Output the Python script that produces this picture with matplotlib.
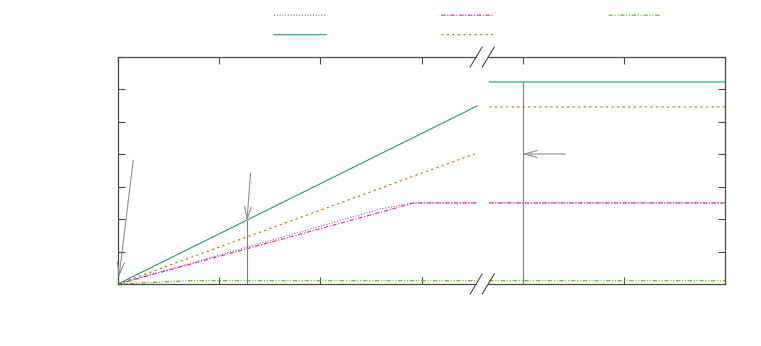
import matplotlib.pyplot as plt
from matplotlib.lines import Line2D

# 1. Data (x in axis units 0..6, y in 0..7)
x_left_end = 3.55
x_right_start = 3.67
x_max = 6.0

# green solid
green_left_x = [0.0, x_left_end]
green_left_y = [0.0, 5.49]
green_right_y = 6.23

# orange dashed
orange_left_x = [0.0, x_left_end]
orange_left_y = [0.0, 4.04]
orange_right_y = 5.46

# purple dotted
purple_left_x = [0.0, 2.6, 2.92, x_left_end]
purple_left_y = [0.0, 2.32, 2.5, 2.5]
purple_right_y = 2.5

# pink dash-dot
pink_left_x = [0.0, 2.93, x_left_end]
pink_left_y = [0.0, 2.5, 2.5]
pink_right_y = 2.5

# light green dash-dot-dot
lime_left_x = [0.0, 0.7, x_left_end]
lime_left_y = [0.0, 0.1, 0.1]
lime_right_y = 0.1

# annotations
marker_x = [1.275, 4.0]
marker_top = [1.94, 6.23]
arrows = [((0.15, 3.82), (0.01, 0.22)),
          ((1.31, 3.42), (1.275, 1.94)),
          ((4.42, 4.01), (4.0, 4.01))]

x_ticks = [0, 1, 2, 3, 4, 5, 6]
y_ticks = [0, 1, 2, 3, 4, 5, 6, 7]

# 2. Styles (Dark2 palette, gnuplot-ish)
c_purple = '#7570b3'
c_pink = '#e7298a'
c_lime = '#66a61e'
c_green = '#1b9e77'
c_orange = '#d95f02'
axis_col = '#4a4a4a'
lw = 0.8

dotted = (0, (1, 1.5))
dashdot = (0, (4, 1.5, 1, 1.5))
dashdotdot = (0, (4, 1.5, 1, 1.5, 1, 1.5))
dashed = (0, (2, 3))

# 3. Figure
fig = plt.figure(figsize=(7.61, 3.46), dpi=100)
ax = fig.add_axes([118 / 761, 62 / 346, 607 / 761, 227 / 346])

series = [
    (purple_left_x, purple_left_y, purple_right_y, c_purple, dotted),
    (pink_left_x, pink_left_y, pink_right_y, c_pink, dashdot),
    (lime_left_x, lime_left_y, lime_right_y, c_lime, dashdotdot),
    (green_left_x, green_left_y, green_right_y, c_green, '-'),
    (orange_left_x, orange_left_y, orange_right_y, c_orange, dashed),
]
handles = []
for xs, ys, yr, col, ls in series:
    ax.plot(xs, ys, color=col, linestyle=ls, linewidth=lw)
    ax.plot([x_right_start, x_max], [yr, yr], color=col, linestyle=ls,
            linewidth=lw, snap=False)
    handles.append(Line2D([], [], color=col, linestyle=ls, linewidth=lw))

# vertical markers and arrows
for mx, mt in zip(marker_x, marker_top):
    ax.plot([mx, mx], [0, mt], color='#808080', linewidth=0.8)
for start, end in arrows:
    ax.annotate('', xy=end, xytext=start,
                arrowprops=dict(arrowstyle='->,head_length=0.9,head_width=0.25',
                                color='#909090', linewidth=0.8,
                                shrinkA=0, shrinkB=0))

ax.set_xlim(0, x_max)
ax.set_ylim(0, 7)
ax.set_xticks(x_ticks)
ax.set_yticks(y_ticks)
ax.set_xticklabels([])
ax.set_yticklabels([])
ax.tick_params(direction='in', length=5, width=0.8, color=axis_col,
               top=True, right=True)
for side in ['left', 'right']:
    ax.spines[side].set_color(axis_col)
    ax.spines[side].set_linewidth(0.9)
ax.spines['top'].set_visible(False)
ax.spines['bottom'].set_visible(False)

# 4. Broken top/bottom axis with // marks
b1, b2 = 0.590, 0.610
dx, dy = 0.0099, 0.044
for yy in [0, 1]:
    ax.plot([0, b1], [yy, yy], transform=ax.transAxes, color=axis_col,
            linewidth=0.9, clip_on=False)
    ax.plot([b2, 1], [yy, yy], transform=ax.transAxes, color=axis_col,
            linewidth=0.9, clip_on=False)
    for bc in [b1, b2]:
        ax.plot([bc - dx, bc + dx], [yy - dy, yy + dy], transform=ax.transAxes,
                color=axis_col, linewidth=0.8, clip_on=False)

# 5. Legend (labels are blank in the reference), filled row by row
order = [0, 3, 1, 4, 2]
leg = fig.legend([handles[i] for i in order], [''] * 5, ncol=3, loc='upper left',
                 bbox_to_anchor=(274 / 761, 1 - 9 / 346), frameon=False,
                 fontsize=10, handlelength=3.74, handletextpad=0.0,
                 columnspacing=8.3, borderpad=0, borderaxespad=0, labelspacing=0.4)
for line in leg.get_lines():
    line.set_snap(False)

plt.savefig('out.png', dpi=100)
